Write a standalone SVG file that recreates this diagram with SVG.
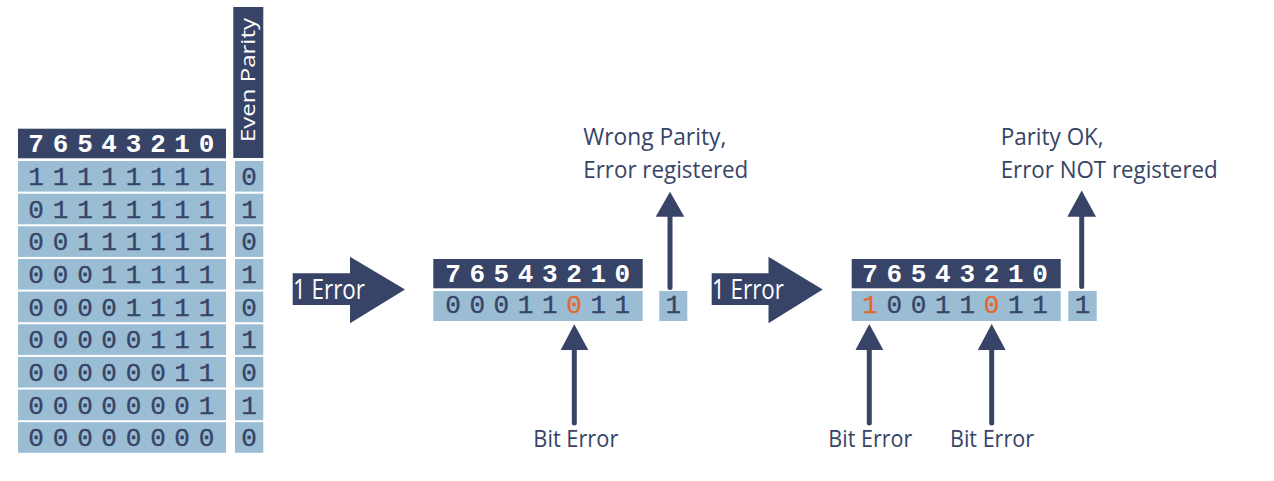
<svg xmlns="http://www.w3.org/2000/svg" width="1274" height="481" viewBox="0 0 1274 481">
<style>
.hd{fill:#374467}
.cl{fill:#9abdd3}
.hdt{font-family:"Liberation Mono",monospace;font-weight:bold;font-size:26px;fill:#ffffff;text-anchor:middle}
.dt{font-family:"Liberation Mono",monospace;font-size:26px;fill:#374467;stroke:#374467;stroke-width:0.35;text-anchor:middle}
.er{fill:#e06a2c;stroke:#e06a2c}
.lb{font-family:"Open Sans","Noto Sans",sans-serif;font-size:24px;fill:#374467}
.wl{font-family:"Open Sans","Noto Sans",sans-serif;font-size:27px;fill:#ffffff}
.sh{stroke:#374467;stroke-width:5;stroke-linecap:round;fill:none}
.ah{fill:#374467}
</style>
<rect width="1274" height="481" fill="#ffffff"/>

<g id="table-left">
<rect class="hd" x="18" y="128.7" width="208" height="29.6"/>
<text class="hdt" x="36 60.5 85 109 133.5 158 182 206.5" y="151.7">76543210</text>
<rect class="hd" x="233.3" y="7" width="30" height="151"/>
<text font-family="Open Sans, Noto Sans, sans-serif" font-size="20" fill="#ffffff" transform="translate(255,142) rotate(-90)" textLength="124" lengthAdjust="spacingAndGlyphs">Even Parity</text>
<g>
<rect class="cl" x="18" y="161" width="208" height="30.6"/><rect class="cl" x="235" y="161" width="28.3" height="30.6"/>
<text class="dt" x="36 60.5 85 109 133.5 158 182 206.5" y="185">11111111</text><text class="dt" x="249" y="185">0</text>
<rect class="cl" x="18" y="193.7" width="208" height="30.6"/><rect class="cl" x="235" y="193.7" width="28.3" height="30.6"/>
<text class="dt" x="36 60.5 85 109 133.5 158 182 206.5" y="217.7">01111111</text><text class="dt" x="249" y="217.7">1</text>
<rect class="cl" x="18" y="226.3" width="208" height="30.6"/><rect class="cl" x="235" y="226.3" width="28.3" height="30.6"/>
<text class="dt" x="36 60.5 85 109 133.5 158 182 206.5" y="250.3">00111111</text><text class="dt" x="249" y="250.3">0</text>
<rect class="cl" x="18" y="259" width="208" height="30.6"/><rect class="cl" x="235" y="259" width="28.3" height="30.6"/>
<text class="dt" x="36 60.5 85 109 133.5 158 182 206.5" y="283">00011111</text><text class="dt" x="249" y="283">1</text>
<rect class="cl" x="18" y="291.6" width="208" height="30.6"/><rect class="cl" x="235" y="291.6" width="28.3" height="30.6"/>
<text class="dt" x="36 60.5 85 109 133.5 158 182 206.5" y="315.6">00001111</text><text class="dt" x="249" y="315.6">0</text>
<rect class="cl" x="18" y="324.3" width="208" height="30.6"/><rect class="cl" x="235" y="324.3" width="28.3" height="30.6"/>
<text class="dt" x="36 60.5 85 109 133.5 158 182 206.5" y="348.3">00000111</text><text class="dt" x="249" y="348.3">1</text>
<rect class="cl" x="18" y="356.9" width="208" height="30.6"/><rect class="cl" x="235" y="356.9" width="28.3" height="30.6"/>
<text class="dt" x="36 60.5 85 109 133.5 158 182 206.5" y="380.9">00000011</text><text class="dt" x="249" y="380.9">0</text>
<rect class="cl" x="18" y="389.6" width="208" height="30.6"/><rect class="cl" x="235" y="389.6" width="28.3" height="30.6"/>
<text class="dt" x="36 60.5 85 109 133.5 158 182 206.5" y="413.6">00000001</text><text class="dt" x="249" y="413.6">1</text>
<rect class="cl" x="18" y="422.2" width="208" height="30.6"/><rect class="cl" x="235" y="422.2" width="28.3" height="30.6"/>
<text class="dt" x="36 60.5 85 109 133.5 158 182 206.5" y="446.2">00000000</text><text class="dt" x="249" y="446.2">0</text>
</g>
</g>

<g id="arrow-1">
<polygon class="ah" points="292.7,273.3 350,273.3 350,256.7 405,289.5 350,323.3 350,305 292.7,305"/>
<text class="wl" x="293" y="298.5" textLength="72" lengthAdjust="spacingAndGlyphs">1 Error</text>
</g>

<g id="word-middle">
<rect class="hd" x="433.3" y="259" width="209.4" height="29.3"/>
<text class="hdt" x="453 477.2 501.4 525.6 549.8 574 598.2 622.4" y="281.7">76543210</text>
<rect class="cl" x="433.3" y="291" width="209.4" height="30"/>
<text class="dt" x="453 477.2 501.4 525.6 549.8" y="313">00011</text>
<text class="dt er" x="574" y="313">0</text>
<text class="dt" x="598.2 622.4" y="313">11</text>
<rect class="cl" x="659.3" y="291" width="28" height="30"/>
<text class="dt" x="673.3" y="313">1</text>
</g>

<g id="label-wrong">
<text class="lb" x="583.3" y="145" textLength="143" lengthAdjust="spacingAndGlyphs">Wrong Parity,</text>
<text class="lb" x="583.3" y="178.3" textLength="165" lengthAdjust="spacingAndGlyphs">Error registered</text>
</g>

<g id="label-bit1">
<text class="lb" font-size="25" x="533.3" y="446.5" textLength="85" lengthAdjust="spacingAndGlyphs">Bit Error</text>
</g>

<g id="arrow-2">
<polygon class="ah" points="711.7,273.3 768.5,273.3 768.5,256.7 822.7,289.5 768.5,323.3 768.5,305 711.7,305"/>
<text class="wl" x="712" y="298.5" textLength="72" lengthAdjust="spacingAndGlyphs">1 Error</text>
</g>

<g id="word-right">
<rect class="hd" x="851.7" y="259" width="209" height="29.3"/>
<text class="hdt" x="870 894.3 918.6 942.9 967.2 991.5 1015.8 1040.1" y="281.7">76543210</text>
<rect class="cl" x="851.7" y="291" width="209" height="30"/>
<text class="dt er" x="870" y="313">1</text>
<text class="dt" x="894.3 918.6 942.9 967.2" y="313">0011</text>
<text class="dt er" x="991.5" y="313">0</text>
<text class="dt" x="1015.8 1040.1" y="313">11</text>
<rect class="cl" x="1068.3" y="291" width="28.4" height="30"/>
<text class="dt" x="1082.5" y="313">1</text>
</g>

<g id="label-ok">
<text class="lb" x="1000.7" y="145" textLength="103" lengthAdjust="spacingAndGlyphs">Parity OK,</text>
<text class="lb" x="1000.7" y="178.3" textLength="217" lengthAdjust="spacingAndGlyphs">Error NOT registered</text>
</g>

<g id="label-bit2">
<text class="lb" font-size="25" x="828.3" y="446.5" textLength="84" lengthAdjust="spacingAndGlyphs">Bit Error</text>
</g>
<g id="label-bit3">
<text class="lb" font-size="25" x="950" y="446.5" textLength="84" lengthAdjust="spacingAndGlyphs">Bit Error</text>
</g>

<g id="connectors">
<line class="sh" x1="670" y1="287.5" x2="670" y2="212"/>
<polygon class="ah" points="655.7,216.7 670,191.7 684.3,216.7"/>
<line class="sh" x1="1081.7" y1="286.5" x2="1081.7" y2="212" stroke-linecap="butt"/>
<polygon class="ah" points="1067.3,216.7 1081.7,190.5 1096,216.7"/>
<line class="sh" x1="574.3" y1="423" x2="574.3" y2="346"/>
<polygon class="ah" points="560.7,350 574.3,324.3 588.3,350"/>
<line class="sh" x1="869.3" y1="423" x2="869.3" y2="346"/>
<polygon class="ah" points="855.5,350 869.3,324 883.3,350"/>
<line class="sh" x1="991.7" y1="423" x2="991.7" y2="346"/>
<polygon class="ah" points="977.8,350 991.7,324 1005.6,350"/>
</g>
</svg>
